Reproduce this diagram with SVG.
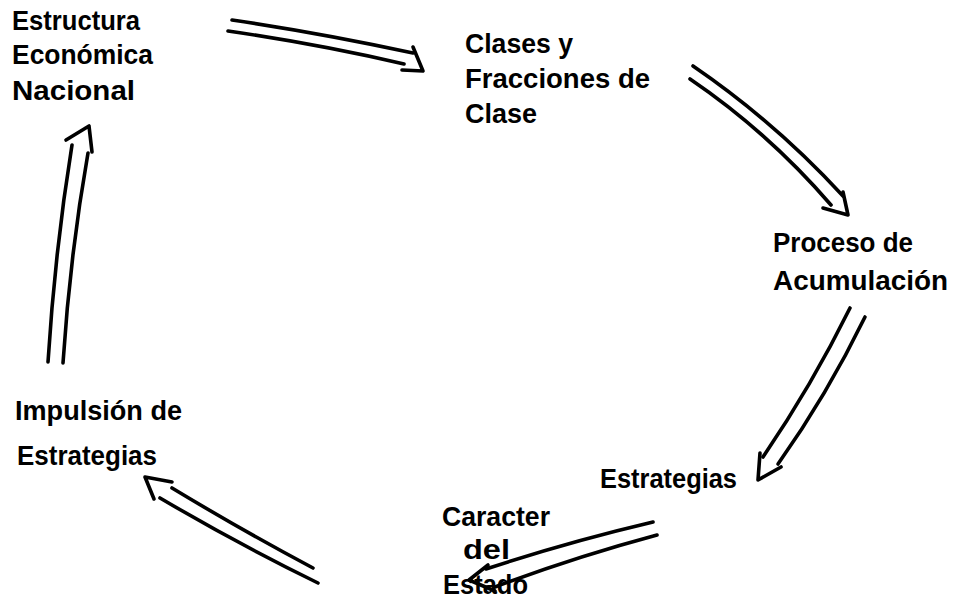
<svg xmlns="http://www.w3.org/2000/svg" width="953" height="602" viewBox="0 0 953 602">
<style>
.t{font-family:"Liberation Sans",Arial,sans-serif;font-weight:700;font-size:27px;fill:#000}
.a{fill:none;stroke:#000;stroke-width:3.6;stroke-linecap:round;stroke-linejoin:round}
</style>
<rect width="953" height="602" fill="#fff"/>
<g id="n1">
<text class="t" x="12" y="30" textLength="128" lengthAdjust="spacingAndGlyphs">Estructura</text>
<text class="t" x="12" y="64" textLength="141" lengthAdjust="spacingAndGlyphs">Económica</text>
<text class="t" x="12" y="100" textLength="123" lengthAdjust="spacingAndGlyphs">Nacional</text>
</g>
<g id="n2">
<text class="t" x="465" y="53" textLength="108" lengthAdjust="spacingAndGlyphs">Clases y</text>
<text class="t" x="465" y="88" textLength="185" lengthAdjust="spacingAndGlyphs">Fracciones de</text>
<text class="t" x="465" y="123" textLength="72" lengthAdjust="spacingAndGlyphs">Clase</text>
</g>
<g id="n3">
<text class="t" x="773" y="252" textLength="140" lengthAdjust="spacingAndGlyphs">Proceso de</text>
<text class="t" x="773" y="290" textLength="175" lengthAdjust="spacingAndGlyphs">Acumulación</text>
</g>
<g id="n4">
<text class="t" x="600" y="488" textLength="137" lengthAdjust="spacingAndGlyphs">Estrategias</text>
</g>
<g id="n5">
<text class="t" x="442" y="526" textLength="108" lengthAdjust="spacingAndGlyphs">Caracter</text>
<text class="t" x="463" y="559" textLength="47" lengthAdjust="spacingAndGlyphs">del</text>
<text class="t" x="443" y="594" textLength="85" lengthAdjust="spacingAndGlyphs">Estado</text>
</g>
<g id="n6">
<text class="t" x="15" y="420" textLength="167" lengthAdjust="spacingAndGlyphs">Impulsión de</text>
<text class="t" x="17" y="465" textLength="140" lengthAdjust="spacingAndGlyphs">Estrategias</text>
</g>
<g id="connectors">
<g id="c1">
<path class="a" d="M232 20 Q320 33 413 53"/>
<path class="a" d="M228 31 Q318 44 404 64"/>
<path class="a" d="M413 47 L423 71 L402 70"/>
</g>
<g id="c2">
<path class="a" d="M693 66 Q775 122 843 196"/>
<path class="a" d="M690 79 Q768 132 831 205"/>
<path class="a" d="M843 192 L848 215 L823 208"/>
</g>
<g id="c3">
<path class="a" d="M850 308 Q812 385 763 457"/>
<path class="a" d="M865 317 Q827 395 778 464"/>
<path class="a" d="M760 453 L758 480 L781 467"/>
</g>
<g id="c4">
<path class="a" d="M653 522 Q568 542 486 569"/>
<path class="a" d="M657 535 Q575 557 495 587"/>
<path class="a" d="M488 565 L469 580 L495 591"/>
</g>
<g id="c5">
<path class="a" d="M313 568 Q245 532 172 488"/>
<path class="a" d="M318 583 Q240 545 160 498"/>
<path class="a" d="M172 482 L145 477 L154 499"/>
</g>
<g id="c6">
<path class="a" d="M48 362 Q55 250 72 145"/>
<path class="a" d="M63 363 Q70 255 88 153"/>
<path class="a" d="M66 140 L89 126 L92 152"/>
</g>
</g>
</svg>
